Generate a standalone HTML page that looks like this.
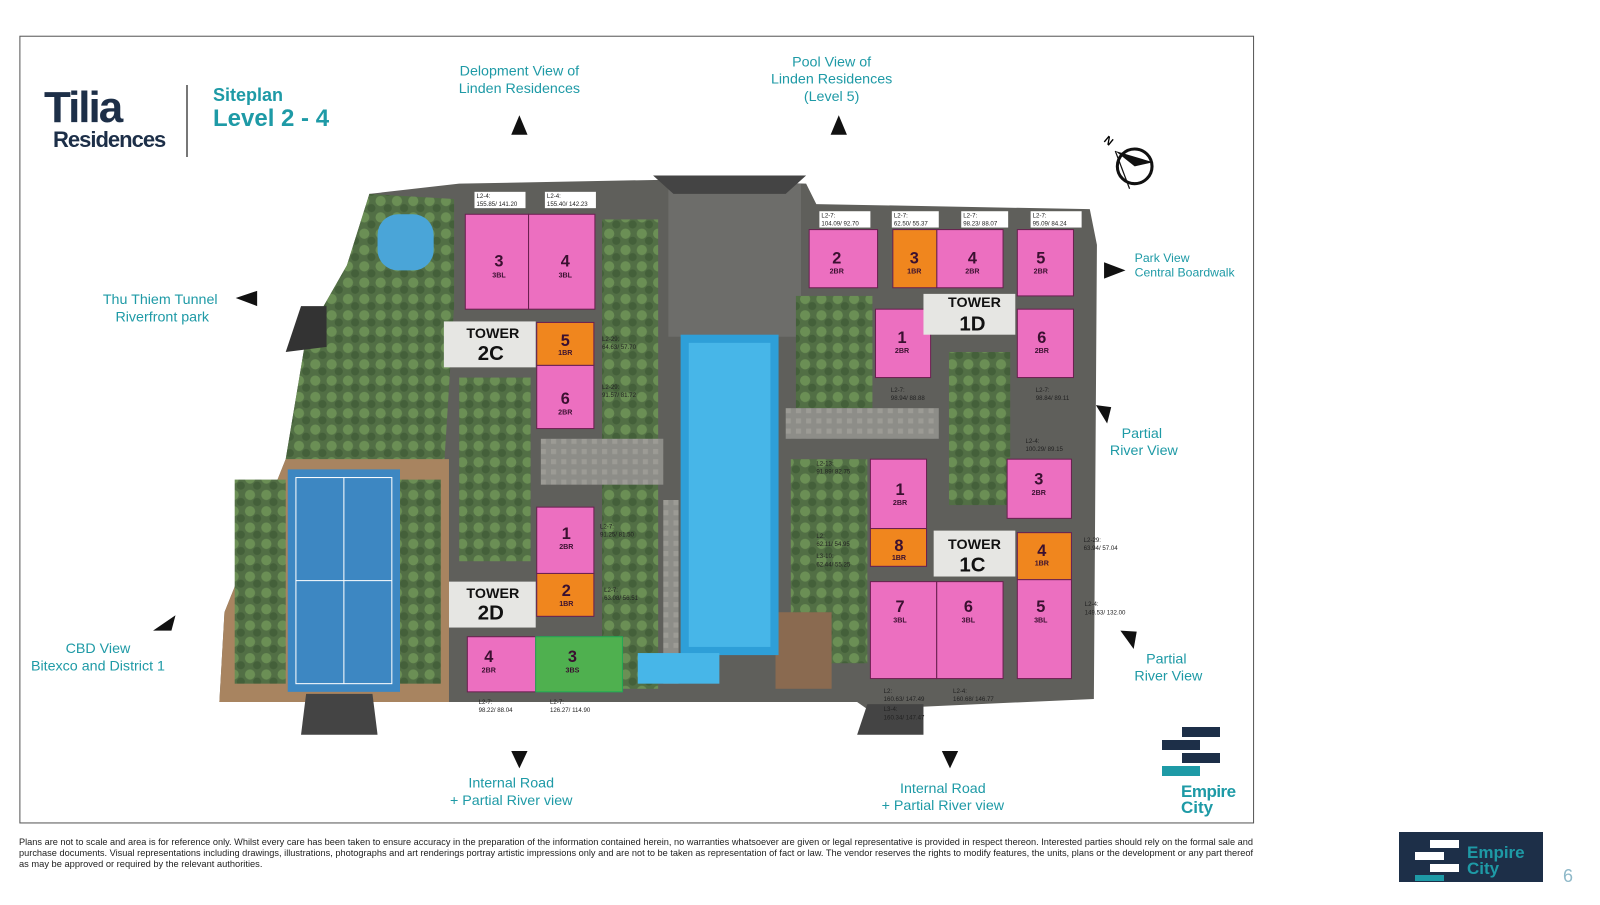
<!DOCTYPE html>
<html><head><meta charset="utf-8"><style>
body{margin:0;width:1600px;height:900px;background:#fff;overflow:hidden;font-family:"Liberation Sans",sans-serif}
</style></head><body>
<svg width="1600" height="900" viewBox="0 0 1600 900" xmlns="http://www.w3.org/2000/svg" font-family="Liberation Sans, sans-serif">
<defs>
<pattern id="tr" width="16" height="16" patternUnits="userSpaceOnUse"><rect width="16" height="16" fill="#526f45"/><circle cx="5" cy="5" r="5" fill="#6b8f55"/><circle cx="12" cy="12" r="4" fill="#44603a"/></pattern>
<pattern id="pv" width="10" height="10" patternUnits="userSpaceOnUse"><rect width="10" height="10" fill="#8d8d88"/><rect width="5" height="5" fill="#9c9b95"/></pattern>
</defs>
<g transform="scale(1.0204)">
<rect x="19.5" y="35.5" width="1209" height="771" fill="#fff" stroke="#555" stroke-width="1"/>
<!-- site -->
<polygon points="362,190 450,180 660,176 790,180 800,200 1068,205 1075,240 1072,685 850,695 840,688 300,688 215,688 220,600 280,450 300,330 340,260" fill="#5f5f5b"/>
<polygon points="362,190 445,195 445,300 435,460 300,460 280,450 300,330 340,260" fill="url(#tr)"/>
<polygon points="280,450 440,450 440,688 215,688 220,600" fill="#a88460"/>
<rect x="230" y="470" width="50" height="200" fill="url(#tr)"/>
<rect x="392" y="470" width="40" height="200" fill="url(#tr)"/>
<rect x="282" y="460" width="110" height="218" fill="#3d87c2"/>
<rect x="290" y="468" width="94" height="202" fill="none" stroke="#fff" stroke-width="1"/>
<line x1="337" y1="468" x2="337" y2="670" stroke="#fff"/><line x1="290" y1="569" x2="384" y2="569" stroke="#fff"/>
<rect x="370" y="210" width="55" height="55" fill="#4aa5d8" rx="20"/>
<rect x="590" y="215" width="55" height="460" fill="url(#tr)"/>
<rect x="450" y="370" width="70" height="180" fill="url(#tr)"/>
<rect x="530" y="430" width="120" height="45" fill="url(#pv)"/>
<rect x="655" y="180" width="130" height="150" fill="#6d6d6a"/>
<rect x="780" y="290" width="75" height="110" fill="url(#tr)"/>
<rect x="770" y="400" width="150" height="30" fill="url(#pv)"/>
<rect x="930" y="345" width="60" height="150" fill="url(#tr)"/>
<rect x="775" y="450" width="75" height="200" fill="url(#tr)"/>
<rect x="760" y="600" width="55" height="75" fill="#8a6a50"/>
<rect x="650" y="490" width="15" height="180" fill="url(#pv)"/>
<rect x="667" y="328" width="96" height="314" fill="#2e9fd8"/>
<rect x="675" y="336" width="80" height="298" fill="#47b6e8"/>
<rect x="625" y="640" width="80" height="30" fill="#47b6e8"/>
<polygon points="640,172 790,172 770,190 660,190" fill="#444"/>
<polygon points="300,680 365,680 370,720 295,720" fill="#444"/>
<polygon points="850,690 905,690 905,720 840,720" fill="#444"/>
<polygon points="295,300 320,300 320,340 280,345" fill="#333"/>
<!-- units -->
<g stroke="#6a2050" stroke-width="1" fill="#ec6fc0">
<rect x="456" y="210" width="62" height="93"/><rect x="518" y="210" width="65" height="93"/>
<rect x="526" y="358" width="56" height="62"/>
<rect x="526" y="497" width="56" height="65"/>
<rect x="458" y="624" width="67" height="54"/>
<rect x="793" y="225" width="67" height="57"/><rect x="918" y="225" width="65" height="57"/>
<rect x="997" y="225" width="55" height="65"/><rect x="858" y="303" width="54" height="67"/>
<rect x="997" y="303" width="55" height="67"/>
<rect x="853" y="450" width="55" height="68"/><rect x="987" y="450" width="63" height="58"/>
<rect x="997" y="568" width="53" height="97"/><rect x="853" y="570" width="65" height="95"/><rect x="918" y="570" width="65" height="95"/>
</g>
<g stroke="#6a2050" stroke-width="1" fill="#f0861e">
<rect x="526" y="316" width="56" height="42"/><rect x="526" y="562" width="56" height="42"/>
<rect x="875" y="225" width="43" height="57"/><rect x="853" y="518" width="55" height="37"/><rect x="997" y="522" width="53" height="46"/>
</g>
<rect x="525" y="624" width="85" height="54" fill="#4fb04f" stroke="#2a5" />
<g fill="#e6e6e3"><rect x="435" y="315" width="90" height="45"/><rect x="440" y="570" width="85" height="45"/><rect x="905" y="288" width="90" height="40"/><rect x="915" y="520" width="80" height="45"/></g>
<g font-weight="bold" fill="#111" text-anchor="middle">
<text x="483" y="331" font-size="14">TOWER</text><text x="481" y="353" font-size="20">2C</text>
<text x="483" y="586" font-size="14">TOWER</text><text x="481" y="607" font-size="20">2D</text>
<text x="955" y="301" font-size="14">TOWER</text><text x="953" y="324" font-size="20">1D</text>
<text x="955" y="538" font-size="14">TOWER</text><text x="953" y="560" font-size="20">1C</text>
</g>
<g font-weight="bold" fill="#3a1030" text-anchor="middle" font-size="16">
<text x="489" y="261">3</text><text x="554" y="261">4</text><text x="554" y="339">5</text><text x="554" y="396">6</text>
<text x="555" y="528">1</text><text x="555" y="584">2</text><text x="479" y="649">4</text><text x="561" y="649">3</text>
<text x="820" y="258">2</text><text x="896" y="258">3</text><text x="953" y="258">4</text><text x="1020" y="258">5</text>
<text x="884" y="336">1</text><text x="1021" y="336">6</text>
<text x="882" y="485">1</text><text x="881" y="540">8</text><text x="1018" y="475">3</text><text x="1021" y="545">4</text>
<text x="1020" y="600">5</text><text x="882" y="600">7</text><text x="949" y="600">6</text>
</g>
<g fill="#3a1030" text-anchor="middle" font-size="7" font-weight="bold">
<text x="489" y="272">3BL</text><text x="554" y="272">3BL</text><text x="554" y="348">1BR</text><text x="554" y="406">2BR</text>
<text x="555" y="538">2BR</text><text x="555" y="594">1BR</text><text x="479" y="659">2BR</text><text x="561" y="659">3BS</text>
<text x="820" y="268">2BR</text><text x="896" y="268">1BR</text><text x="953" y="268">2BR</text><text x="1020" y="268">2BR</text>
<text x="884" y="346">2BR</text><text x="1021" y="346">2BR</text>
<text x="882" y="495">2BR</text><text x="881" y="549">1BR</text><text x="1018" y="485">2BR</text><text x="1021" y="554">1BR</text>
<text x="1020" y="610">3BL</text><text x="882" y="610">3BL</text><text x="949" y="610">3BL</text>
</g>
<g font-size="6" fill="#222"><g fill="#fff"><rect x="465" y="188" width="50" height="16"/><rect x="534" y="188" width="50" height="16"/><rect x="803" y="207" width="50" height="16"/><rect x="874" y="207" width="46" height="16"/><rect x="942" y="207" width="46" height="16"/><rect x="1010" y="207" width="50" height="16"/></g>
<text x="467" y="194">L2-4:</text><text x="467" y="202">155.85/ 141.20</text>
<text x="536" y="194">L2-4:</text><text x="536" y="202">155.40/ 142.23</text>
<text x="805" y="213">L2-7:</text><text x="805" y="221">104.09/ 92.70</text>
<text x="876" y="213">L2-7:</text><text x="876" y="221">62.50/ 55.37</text>
<text x="944" y="213">L2-7:</text><text x="944" y="221">98.23/ 88.07</text>
<text x="1012" y="213">L2-7:</text><text x="1012" y="221">95.09/ 84.24</text>
<text x="590" y="334">L2-29:</text><text x="590" y="342">64.63/ 57.70</text>
<text x="590" y="381">L2-29:</text><text x="590" y="389">91.57/ 81.72</text>
<text x="588" y="518">L2-7:</text><text x="588" y="526">91.25/ 81.50</text>
<text x="592" y="580">L2-7:</text><text x="592" y="588">63.08/ 56.51</text>
<text x="469" y="690">L2-7:</text><text x="469" y="698">98.22/ 88.04</text>
<text x="539" y="690">L2-7:</text><text x="539" y="698">126.27/ 114.90</text>
<text x="873" y="384">L2-7:</text><text x="873" y="392">98.94/ 88.88</text>
<text x="1015" y="384">L2-7:</text><text x="1015" y="392">98.84/ 89.11</text>
<text x="1005" y="434">L2-4:</text><text x="1005" y="442">100.29/ 89.15</text>
<text x="800" y="456">L2-13:</text><text x="800" y="464">91.89/ 82.75</text>
<text x="800" y="527">L2:</text><text x="800" y="535">62.11/ 54.95</text>
<text x="800" y="547">L3-10:</text><text x="800" y="555">62.44/ 55.25</text>
<text x="1062" y="531">L2-29:</text><text x="1062" y="539">63.94/ 57.04</text>
<text x="1063" y="594">L2-4:</text><text x="1063" y="602">149.53/ 132.00</text>
<text x="866" y="679">L2:</text><text x="866" y="687">160.63/ 147.49</text>
<text x="866" y="697">L3-4:</text><text x="866" y="705">160.34/ 147.47</text>
<text x="934" y="679">L2-4:</text><text x="934" y="687">160.68/ 146.77</text>
</g>
<!-- view labels -->
<g fill="#1e9aa6" font-size="14" text-anchor="middle">
<text x="509" y="74">Delopment View of</text><text x="509" y="91">Linden Residences</text>
<text x="815" y="65">Pool View of</text><text x="815" y="82">Linden Residences</text><text x="815" y="99">(Level 5)</text>
<text x="157" y="298">Thu Thiem Tunnel</text><text x="159" y="315">Riverfront park</text>
<text x="96" y="640">CBD View</text><text x="96" y="657">Bitexco and District 1</text>
<text x="501" y="772">Internal Road</text><text x="501" y="789">+ Partial River view</text>
<text x="924" y="777">Internal Road</text><text x="924" y="794">+ Partial River view</text>
<text x="1119" y="429">Partial</text><text x="1121" y="446">River View</text>
<text x="1143" y="650">Partial</text><text x="1145" y="667">River View</text>
</g>
<g fill="#1e9aa6" font-size="12"><text x="1112" y="257">Park View</text><text x="1112" y="271">Central Boardwalk</text></g>
<g fill="#111">
<polygon points="509,113 501,132 517,132"/><polygon points="822,113 814,132 830,132"/>
<polygon points="231,292 252,285 252,300"/><polygon points="150,618 172,603 168,618"/>
<polygon points="509,753 501,736 517,736"/><polygon points="931,753 923,736 939,736"/>
<polygon points="1103,265 1082,257 1082,273"/><polygon points="1085,415 1074,397 1089,399"/><polygon points="1111,636 1098,618 1114,619"/>
</g>
<!-- compass -->
<circle cx="1112" cy="163" r="17" fill="none" stroke="#111" stroke-width="3"/>
<polygon points="1093,148 1130,159 1112,163" fill="#111"/><line x1="1093" y1="148" x2="1107" y2="185" stroke="#111" stroke-width="1.2"/>
<text x="1083" y="141" font-size="11" font-weight="bold" transform="rotate(40 1086 137)">N</text>
</g>
<!-- header -->
<text x="44" y="122" font-size="44" font-weight="bold" fill="#1d2f48" letter-spacing="-2">Tilia</text>
<text x="53" y="147" font-size="22" font-weight="bold" fill="#1d2f48" letter-spacing="-1">Residences</text>
<rect x="186" y="85" width="2" height="72" fill="#777"/>
<text x="213" y="101" font-size="18" font-weight="bold" fill="#1e9aa6">Siteplan</text>
<text x="213" y="126" font-size="24" font-weight="bold" fill="#1e9aa6">Level 2 - 4</text>
<!-- logo in frame -->
<g><rect x="1182" y="727" width="38" height="10" fill="#1d2f48"/><rect x="1162" y="740" width="38" height="10" fill="#1d2f48"/><rect x="1182" y="753" width="38" height="10" fill="#1d2f48"/><rect x="1162" y="766" width="38" height="10" fill="#1e9aa6"/>
<text x="1181" y="797" font-size="17" font-weight="bold" fill="#1e9aa6" letter-spacing="-0.5">Empire</text><text x="1181" y="813" font-size="17" font-weight="bold" fill="#1e9aa6">City</text></g>
<!-- footer -->
<g font-size="9.3" fill="#222"><text x="19" y="845" textLength="1234" lengthAdjust="spacingAndGlyphs">Plans are not to scale and area is for reference only. Whilst every care has been taken to ensure accuracy in the preparation of the information contained herein, no warranties whatsoever are given or legal representative is provided in respect thereon. Interested parties should rely on the formal sale and</text>
<text x="19" y="856" textLength="1234" lengthAdjust="spacingAndGlyphs">purchase documents. Visual representations including drawings, illustrations, photographs and art renderings portray artistic impressions only and are not to be taken as representation of fact or law. The vendor reserves the rights to modify features, the units, plans or the development or any part thereof</text>
<text x="19" y="867">as may be approved or required by the relevant authorities.</text></g>
<rect x="1399" y="832" width="144" height="50" fill="#1d2f48"/>
<rect x="1430" y="840" width="29" height="8" fill="#fff"/><rect x="1415" y="852" width="29" height="8" fill="#fff"/><rect x="1430" y="864" width="29" height="8" fill="#fff"/><rect x="1415" y="875" width="29" height="6" fill="#1e9aa6"/>
<text x="1467" y="858" font-size="17" font-weight="bold" fill="#1e9aa6">Empire</text><text x="1467" y="874" font-size="17" font-weight="bold" fill="#1e9aa6">City</text>
<text x="1563" y="882" font-size="18" fill="#8fb9c9">6</text>
</svg>
</body></html>
